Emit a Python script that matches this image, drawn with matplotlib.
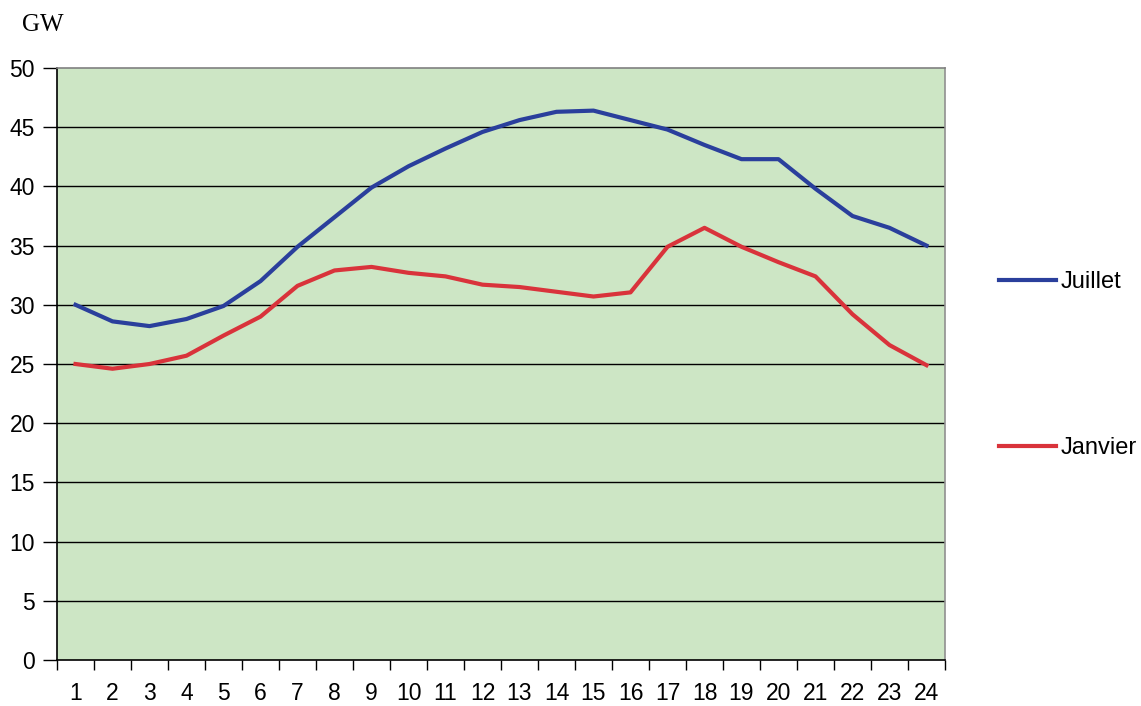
import matplotlib
matplotlib.use("Agg")
import matplotlib.pyplot as plt
import numpy as np

# hours of the day (category axis)
hours = list(range(1, 25))

# consumption in GW
juillet = [30.0, 28.6, 28.2, 28.8, 29.9, 32.0, 34.9, 37.4, 39.9, 41.7, 43.2, 44.6,
           45.6, 46.3, 46.4, 45.6, 44.8, 43.5, 42.3, 42.3, 39.8, 37.5, 36.5, 35.0]
janvier = [25.0, 24.6, 25.0, 25.7, 27.4, 29.0, 31.6, 32.9, 33.2, 32.7, 32.4, 31.7,
           31.5, 31.1, 30.7, 31.05, 34.9, 36.5, 34.9, 33.6, 32.4, 29.2, 26.6, 24.9]

y_ticks = [0, 5, 10, 15, 20, 25, 30, 35, 40, 45, 50]

plt.rcParams['font.family'] = ['Liberation Sans', 'DejaVu Sans']

fig = plt.figure(figsize=(11.41, 7.06), dpi=100)
ax = fig.add_axes([57 / 1141, 1 - 660 / 706, (945 - 57) / 1141, (660 - 68) / 706])
ax.set_facecolor('#cde6c5')

for y in y_ticks[1:-1]:
    ax.axhline(y, color='black', linewidth=1.0, zorder=1)

ax.plot(hours, juillet, color='#2a3f9c', linewidth=3.0, label='Juillet', zorder=3)
ax.plot(hours, janvier, color='#d9333b', linewidth=3.0, label='Janvier', zorder=3)

ax.set_xlim(0.5, 24.5)
ax.set_ylim(0, 50)

ax.set_xticks(hours)
ax.set_xticklabels([str(h) for h in hours])
ax.set_xticks(np.arange(0.5, 25, 1), minor=True)
ax.tick_params(axis='x', which='major', length=0, pad=15.5, labelsize=16.5)
ax.tick_params(axis='x', which='minor', length=7, width=1.0, direction='out')
ax.set_yticks(y_ticks)
ax.tick_params(axis='y', length=10, width=1.0, direction='out', pad=6, labelsize=16.5)

ax.spines['left'].set_color('black')
ax.spines['bottom'].set_color('black')
ax.spines['top'].set_color('#808080')
ax.spines['right'].set_color('#909090')
for s in ax.spines.values():
    s.set_linewidth(1.2)

fig.text(22 / 1141, 1 - 25 / 706, 'GW', family='Liberation Serif', fontsize=18,
         va='center', ha='left')

fig.legend(loc='center left', bbox_to_anchor=(999 / 1141, 1 - 365 / 706),
           frameon=False, fontsize=17, labelspacing=6.1, handlelength=2.4,
           handletextpad=0.2, borderpad=0, borderaxespad=0)

fig.savefig('out.png', dpi=100)
